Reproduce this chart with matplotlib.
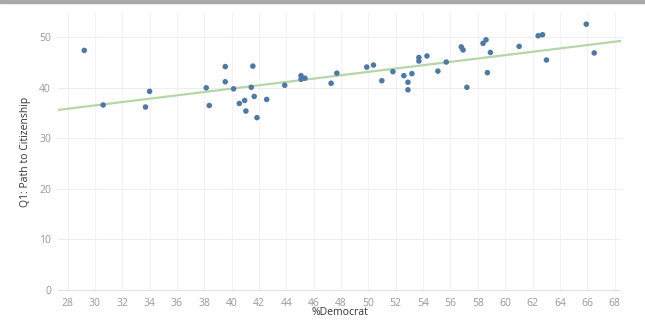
import numpy as np
import matplotlib
matplotlib.use("Agg")
import matplotlib.pyplot as plt
from matplotlib.patches import Rectangle

pct_democrat = [29.22, 30.6, 33.7, 34.0, 38.14, 38.36, 39.53, 39.53, 40.14, 40.56,
                40.95, 41.04, 41.43, 41.55, 41.65, 41.85, 42.56, 43.88, 45.07, 45.07,
                45.36, 47.27, 47.69, 49.88, 50.37, 50.98, 51.79, 52.59, 52.89, 52.89,
                53.18, 53.69, 53.69, 54.28, 55.08, 55.69, 56.79, 56.92, 57.2, 58.38,
                58.6, 58.7, 58.92, 61.02, 62.41, 62.73, 63.02, 65.93, 66.51]
path_citizenship = [47.4, 36.6, 36.2, 39.3, 40.0, 36.5, 44.2, 41.2, 39.8, 36.9,
                    37.5, 35.4, 40.1, 44.3, 38.3, 34.1, 37.7, 40.5, 42.4, 41.7,
                    41.9, 40.9, 42.9, 44.1, 44.5, 41.4, 43.2, 42.4, 41.1, 39.6,
                    42.8, 46.0, 45.3, 46.3, 43.3, 45.1, 48.1, 47.5, 40.1, 48.8,
                    49.5, 43.0, 47.0, 48.2, 50.3, 50.5, 45.5, 52.6, 46.9]
x_ticks = list(range(28, 70, 2))
y_ticks = [0, 10, 20, 30, 40, 50]

W, H = 645, 320
fig = plt.figure(figsize=(W / 100, H / 100), dpi=100)
left, right, top, bottom = 58, 621, 12, 292
ax = fig.add_axes([left / W, 1 - bottom / H, (right - left) / W, (bottom - top) / H])
ax.set_xlim(27.3, 68.47)
ax.set_ylim(-0.4, 55)

for s in ax.spines.values():
    s.set_visible(False)

for xv in x_ticks:
    ax.axvline(xv, color="#f3f3f3", lw=0.8, zorder=0)
for yv in y_ticks[1:]:
    ax.axhline(yv, color="#eeeeee", lw=0.8, zorder=0)
ax.axhline(0, color="#e2e2e2", lw=0.9, zorder=0)

x = np.array(pct_democrat)
y = np.array(path_citizenship)
slope, intercept = np.polyfit(x, y, 1)
xl = np.array(ax.get_xlim())
ax.plot(xl, slope * xl + intercept, color="#b5d6a7", lw=1.6, zorder=2)

ax.scatter(x, y, s=16, color="#4e79a7", edgecolors="none", zorder=3)

tick_font = dict(family="Open Sans", size=7.5, color="#999999")
ax.set_xticks(x_ticks)
ax.set_xticklabels([str(t) for t in x_ticks], **tick_font)
ax.set_yticks(y_ticks)
ax.set_yticklabels([str(t) for t in y_ticks], **tick_font)
ax.tick_params(axis="x", length=0, pad=4)
ax.tick_params(axis="y", length=0, pad=5)

ax.set_xlabel("%Democrat", family="Open Sans", size=7.5, color="#333333", labelpad=-1)
ax.set_ylabel("Q1: Path to Citizenship", family="Open Sans", size=7.5, color="#333333", labelpad=6)

fig.patches.append(Rectangle((0, 1 - 3 / H), 1, 3 / H, transform=fig.transFigure,
                             color="#a9a9a9", zorder=5))
fig.savefig("out.png", dpi=100)
